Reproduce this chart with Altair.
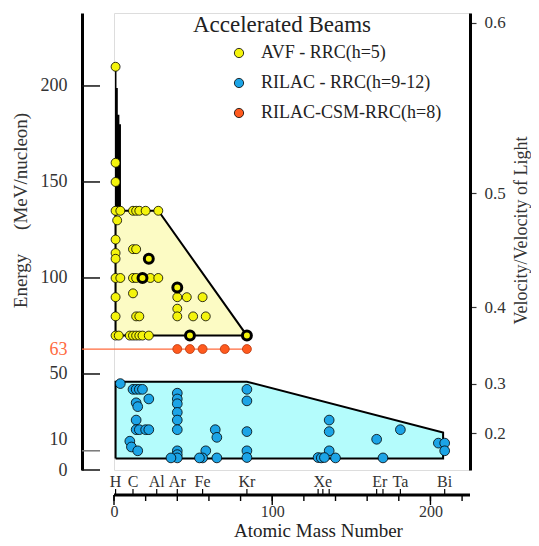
import math
import altair as alt
import pandas as pd

# ---------------- data ----------------
# AVF - RRC(h=5)  (mass number, energy MeV/nucleon)
avf_A = [1, 1, 1,
         1, 4, 12, 14, 16, 20, 28,
         2, 1, 1, 1,
         12, 14,
         1, 4, 12, 14, 23, 28,
         12, 1,
         40, 46, 56,
         40, 40,
         1, 14, 16, 50, 58,
         1, 3, 10, 12, 14, 16, 18, 22]
avf_E = [210, 160, 150,
         135, 135, 135, 135, 135, 135, 135,
         130, 120, 113, 110,
         115, 115,
         100, 100, 100, 100, 100, 100,
         92, 90,
         90, 90, 90,
         84, 80,
         80, 80, 80, 80, 80,
         70, 70, 70, 70, 70, 70, 70, 70]
# AVF beams drawn with a heavy ring
avf_ring_A = [22, 18, 40, 48, 84]
avf_ring_E = [110, 100, 95, 70, 70]

# RILAC - RRC(h=9-12)
rilac_A = [4, 12, 14, 16, 18, 22, 14, 15, 14, 14, 16, 20, 22, 10, 11, 15,
           40, 40, 40, 40, 40, 40, 40, 40, 40, 36,
           58, 56, 54, 65, 64, 65,
           84, 84, 84, 84, 84,
           136, 136, 136, 129, 131, 133, 140,
           166, 170, 181, 205, 209, 209]
rilac_E = [45, 42, 42, 42, 42, 37, 35, 33, 26, 21, 21, 21, 21, 15, 12, 10,
           40, 37, 34.5, 30, 26, 21, 10, 8, 6.3, 6.3,
           10, 6.3, 6.3, 6.3, 21, 17,
           42, 36, 20, 10, 6.5,
           26, 20, 10, 6.5, 6.3, 6.5, 6.3,
           16, 6.3, 21, 14, 14, 10]

# RILAC-CSM-RRC(h=8)
csm_A = [40, 48, 56, 70, 84]
csm_E = [63, 63, 63, 63, 63]
csm_energy = 63

# acceptance regions
yellow_top_A = [1, 28, 84]
yellow_top_E = [135, 135, 70]
yellow_base_E = 70
blue_top_A = [1, 84, 208]
blue_top_E = [46, 46, 19.5]
blue_base_E = 6
spike_A = [1, 1.5, 2.4, 3.4, 4.4]
spike_E = [210, 199, 185, 180, 180]
spike_base_E = 135

# axes
energy_tick_values = [0, 10, 50, 100, 150, 200]
energy_label_values = [0, 10, 50, 63, 100, 150, 200]
beta_values = [0.2, 0.3, 0.4, 0.5, 0.6]
mass_tick_values = [0, 20, 40, 60, 80, 100, 120, 140, 160, 180, 200, 220]
mass_major_values = [0, 100, 200]
mass_axis_end = 225
element_tick_A = [1, 12, 27, 40, 56, 84, 129, 132, 136, 166, 170, 181, 209]
element_names = ["H", "C", "Al", "Ar", "Fe", "Kr", "Xe", "Er", "Ta", "Bi"]
element_label_A = [1, 12, 27, 40, 56, 84, 132, 168, 181, 209]

series_names = ["AVF - RRC(h=5)", "RILAC - RRC(h=9-12)", "RILAC-CSM-RRC(h=8)"]
series_colors = ["#f4f40c", "#1ca4e6", "#ff5a1e"]

# ---------------- build tables ----------------
M_U = 931.494
beta_E = [M_U * (1 / math.sqrt(1 - b * b) - 1) for b in beta_values]

pts = pd.concat([
    pd.DataFrame({"A": avf_A, "E": avf_E, "beam": series_names[0], "ring": 0}),
    pd.DataFrame({"A": avf_ring_A, "E": avf_ring_E, "beam": series_names[0], "ring": 1}),
    pd.DataFrame({"A": rilac_A, "E": rilac_E, "beam": series_names[1], "ring": 0}),
    pd.DataFrame({"A": csm_A, "E": csm_E, "beam": series_names[2], "ring": 0}),
], ignore_index=True)

yellow_area = pd.DataFrame({"A": yellow_top_A, "E": yellow_top_E})
blue_area = pd.DataFrame({"A": blue_top_A, "E": blue_top_E})
spike = pd.DataFrame({"A": spike_A, "E": spike_E})


def outline(top_A, top_E, base):
    a = [top_A[0]] + top_A + [top_A[-1], top_A[0]]
    e = [base] + top_E + [base, base]
    return pd.DataFrame({"A": a, "E": e, "o": list(range(len(a)))})


yellow_line = outline(yellow_top_A, yellow_top_E, yellow_base_E)
blue_line = outline(blue_top_A, blue_top_E, blue_base_E)
etick = pd.DataFrame({"E": energy_tick_values})
elem_ticks = pd.DataFrame({"A": element_tick_A})
elem_labels = pd.DataFrame({"A": element_label_A, "name": element_names})
mass_ticks = pd.DataFrame({"A": mass_tick_values})
mass_major = pd.DataFrame({"A": mass_major_values})

W, H = 356, 457
FONT = "Liberation Serif"
xscale = alt.Scale(domain=[0, mass_axis_end], nice=False, zero=False)
yscale = alt.Scale(domain=[0, 238], nice=False, zero=False)

x_axis = alt.Axis(
    orient="bottom", offset=25, values=mass_major_values, domain=False, grid=False,
    ticks=False, tickSize=0, labelOverlap=False, labelFlush=False,
    labelFont=FONT, labelFontSize=16, labelColor="#333", labelPadding=8,
    title="Atomic Mass Number", titleFont=FONT, titleFontSize=19, titleFontWeight="normal",
    titleColor="#222", titleX=204, titleY=35, titleAlign="center", titleBaseline="middle",
)
left_axis = alt.Axis(
    orient="left", offset=32, values=energy_label_values, grid=False,
    domainColor="black", domainWidth=3, ticks=False, tickSize=0, labelPadding=15,
    labelFont=FONT, labelFontSize=18,
    labelColor={"condition": {"test": "datum.value == 63", "value": "#ff6a40"}, "value": "#333333"},
    labelOffset={"condition": {"test": "datum.value == 10", "value": -11}, "value": 0},
    title="Energy\u00a0\u00a0\u00a0\u00a0\u00a0(MeV/nucleon)", titleFont=FONT, titleFontSize=19,
    titleFontWeight="normal", titleColor="#333", titleAngle=270, titleX=-62, titleY=197,
    titleAlign="center", titleBaseline="middle",
)
right_axis = alt.Axis(
    orient="right", values=beta_E, grid=False,
    labelExpr="format(sqrt(1 - pow(1 / (1 + datum.value / 931.494), 2)), '.1f')",
    domainColor="black", domainWidth=3, tickColor="#333", tickSize=6, tickWidth=1.2,
    labelPadding=8, labelFont=FONT, labelFontSize=17, labelColor="#333",
    title="Velocity/Velocity of Light", titleFont=FONT, titleFontSize=18,
    titleFontWeight="normal", titleColor="#333", titleAngle=270, titleX=51, titleY=217,
    titleAlign="center", titleBaseline="middle",
)


def X(field="A", axis=alt.Undefined):
    # x axis is shared: layers leave it unspecified so the one explicit axis wins
    return alt.X(f"{field}:Q", scale=xscale, axis=axis)


def Y(field="E", axis=None):
    return alt.Y(f"{field}:Q", scale=yscale, axis=axis)


y_area = alt.Chart(yellow_area).mark_area(color="#fcfbc4", opacity=1).encode(
    x=X(axis=x_axis), y=Y(axis=left_axis), y2=alt.Y2Datum(yellow_base_E))
b_area = alt.Chart(blue_area).mark_area(color="#b4fcfc", opacity=1).encode(
    x=X(), y=Y(axis=right_axis), y2=alt.Y2Datum(blue_base_E))
spike_area = alt.Chart(spike).mark_area(color="black", opacity=1, interpolate="step-after").encode(
    x=X(), y=Y(), y2=alt.Y2Datum(spike_base_E))
y_line = alt.Chart(yellow_line).mark_line(color="black", strokeWidth=2).encode(
    x=X(), y=Y(), order="o:Q")
b_line = alt.Chart(blue_line).mark_line(color="black", strokeWidth=2).encode(
    x=X(), y=Y(), order="o:Q")
spike_line = alt.Chart(spike.head(1)).mark_rule(color="black", strokeWidth=1.2).encode(
    x=X(), y=Y(), y2=alt.Y2Datum(spike_base_E))

left_ticks = alt.Chart(etick).mark_rule(strokeWidth=1.5).encode(
    y=Y(), x=alt.value(-32), x2=alt.value(-14),
    color=alt.condition("datum.E == 10", alt.value("#777777"), alt.value("#111111")))
red_line = alt.Chart(pd.DataFrame({"E": [csm_energy]})).mark_rule(color="#ff6a3d", strokeWidth=1.2).encode(
    x=alt.XDatum(csm_A[-1], scale=xscale), x2=alt.value(-32), y=Y())

x_ticks = alt.Chart(mass_ticks).mark_rule(color="black", strokeWidth=1.4).encode(
    x=X(), y=alt.value(H + 25), y2=alt.value(H + 31))
x_major = alt.Chart(mass_major).mark_rule(color="black", strokeWidth=1.4).encode(
    x=X(), y=alt.value(H + 25), y2=alt.value(H + 35))
x_domain = alt.Chart(pd.DataFrame({"a": [0]})).mark_rule(color="black", strokeWidth=3).encode(
    x=alt.XDatum(mass_tick_values[0], scale=xscale),
    x2=alt.X2Datum(mass_axis_end), y=alt.value(H + 25))
el_ticks = alt.Chart(elem_ticks).mark_rule(color="black", strokeWidth=1.2).encode(
    x=X(), y=alt.value(H + 19), y2=alt.value(H + 25))
el_text = alt.Chart(elem_labels).mark_text(font=FONT, fontSize=16, color="#333", baseline="middle").encode(
    x=X(), y=alt.value(H + 12), text="name:N")

points = alt.Chart(pts).mark_point(shape="circle", filled=True, opacity=1).encode(
    x=X(), y=Y(),
    fill=alt.Fill("beam:N", scale=alt.Scale(domain=series_names, range=series_colors),
                  legend=alt.Legend(orient="none", legendX=116, legendY=31, title=None,
                                    labelFont=FONT, labelFontSize=18, labelColor="#222",
                                    labelLimit=400,
                                    symbolType="circle", symbolSize=85, symbolStrokeColor="black",
                                    symbolStrokeWidth=0.8, labelOffset=13, rowPadding=12,
                                    padding=0)),
    stroke=alt.condition(f"datum.beam == '{series_names[2]}'", alt.value("#b83a10"), alt.value("black")),
    strokeWidth=alt.condition("datum.ring == 1", alt.value(3), alt.value(0.8)),
    size=alt.condition(f"datum.beam == '{series_names[1]}'", alt.value(95), alt.value(80)),
)

chart = alt.layer(
    y_area, b_area, spike_area, y_line, b_line, spike_line,
    left_ticks, red_line, x_ticks, x_major, x_domain, el_ticks, el_text, points,
).resolve_axis(y="independent").properties(
    width=W, height=H,
    title=alt.TitleParams("Accelerated Beams", font=FONT, fontSize=23, fontWeight="normal",
                          color="#222", anchor="middle", frame="group", dx=-10, dy=24, offset=0),
    autosize=alt.AutoSizeParams(type="none"),
    padding={"left": 106, "top": 5, "right": 61, "bottom": 68},
).configure_view(stroke=None).configure(font=FONT)

chart.save("out.html", embed_options={"renderer": "svg", "actions": False})
